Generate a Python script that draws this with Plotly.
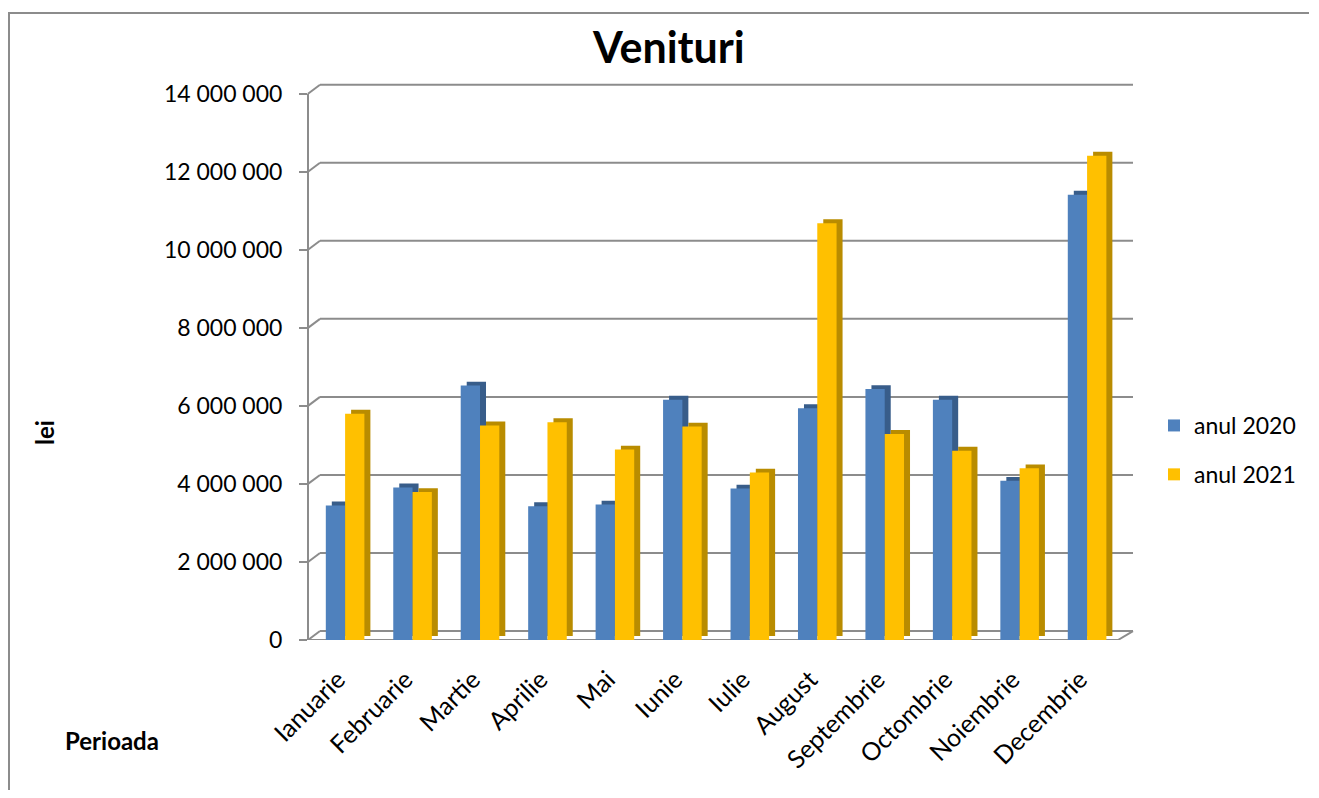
import plotly.graph_objects as go

# ---- data ----
months = ["Ianuarie", "Februarie", "Martie", "Aprilie", "Mai", "Iunie",
          "Iulie", "August", "Septembrie", "Octombrie", "Noiembrie", "Decembrie"]
anul_2020 = [3450000, 3910000, 6520000, 3430000, 3470000, 6160000,
             3880000, 5940000, 6430000, 6160000, 4080000, 11410000]
anul_2021 = [5800000, 3790000, 5500000, 5580000, 4880000, 5470000,
             4290000, 10680000, 5280000, 4850000, 4400000, 12410000]
series_names = ["anul 2020", "anul 2021"]
y_ticks = [0, 2000000, 4000000, 6000000, 8000000, 10000000, 12000000, 14000000]
y_ticktext = [f"{v:,}".replace(",", " ") for v in y_ticks]

# ---- style / layout (page pixel geometry; body margin is 8px) ----
FONT = "Lato"
BLUE, BLUE_SIDE = "#4F81BD", "#385D8A"
YELLOW, YELLOW_SIDE = "#FFC000", "#B98C00"
GRID = "#8C8C8C"

OFF = 8
PLOT_L, PLOT_B = 308, 640          # page px of plot area left / bottom
PW, PH = 829, 558
W, H = 1301, 782
L = PLOT_L - OFF
T = PLOT_B - PH - OFF
R = W - L - PW
B = H - T - PH

def px_x(p):
    return (p - PLOT_L) / PW

def px_y(p):
    return (PLOT_B - p) / PH

x = list(range(len(months)))
bw = 0.286          # bar width (category units)
dx = 0.089          # depth offset to the right
dy = 100000         # depth offset upward (value units)
wall = 230000       # back wall shift (value units)
top = y_ticks[-1] + wall + 70000

fig = go.Figure()
specs = [
    (anul_2020, series_names[0], BLUE, BLUE_SIDE, -bw, "g1"),
    (anul_2021, series_names[1], YELLOW, YELLOW_SIDE, 0.0, "g2"),
]
for vals, name, col, side, off, grp in specs:
    fig.add_trace(go.Bar(
        x=x, y=vals, base=[dy] * len(vals), offset=off + dx, width=bw,
        marker=dict(color=side, line=dict(width=0)),
        showlegend=False, hoverinfo="skip", legendgroup=grp,
    ))
    fig.add_trace(go.Bar(
        x=x, y=vals, offset=off, width=bw, name=name,
        marker=dict(color=col, line=dict(width=0)), legendgroup=grp,
    ))

# back wall gridlines with perspective connectors, built from the tick values
shapes = []
x_front, x_back, x_right = px_x(308), px_x(320), px_x(1133)
for v in y_ticks:
    shapes.append(dict(type="line", xref="paper", yref="y", layer="below",
                       x0=x_front, y0=v, x1=x_back, y1=v + wall,
                       line=dict(color=GRID, width=2)))
    shapes.append(dict(type="line", xref="paper", yref="y", layer="below",
                       x0=x_back, y0=v + wall, x1=x_right, y1=v + wall,
                       line=dict(color=GRID, width=2)))
# floor front edge and right edge
x_floor_r = px_x(1118)
shapes.append(dict(type="line", xref="paper", yref="y", layer="below",
                   x0=x_front, y0=0, x1=x_floor_r, y1=0,
                   line=dict(color=GRID, width=2)))
shapes.append(dict(type="line", xref="paper", yref="y", layer="below",
                   x0=x_floor_r, y0=0, x1=x_right, y1=wall,
                   line=dict(color=GRID, width=2)))
# front value axis line
shapes.append(dict(type="line", xref="paper", yref="y", layer="below",
                   x0=x_front, y0=0, x1=x_front, y1=y_ticks[-1],
                   line=dict(color=GRID, width=2)))
# chart frame (left and top edges visible; right/bottom run off the page)
shapes.append(dict(type="rect", xref="paper", yref="paper", layer="below",
                   x0=px_x(9), x1=px_x(1400), y0=px_y(900), y1=px_y(13),
                   line=dict(color=GRID, width=2)))

fig.update_layout(
    width=W, height=H,
    margin=dict(l=L, r=R, t=T, b=B, autoexpand=False),
    paper_bgcolor="white", plot_bgcolor="white",
    barmode="overlay",
    font=dict(family=FONT, size=23, color="black"),
    xaxis=dict(
        range=[-0.55, len(months) - 0.26],
        tickvals=x, ticktext=months, tickangle=-45,
        showline=False, showgrid=False, zeroline=False,
        ticks="outside", ticklen=14, tickcolor="rgba(0,0,0,0)",
        ticklabelshift=-7,
        tickfont=dict(family=FONT, size=25),
        automargin=False, fixedrange=True,
    ),
    yaxis=dict(
        range=[0, top], tickvals=y_ticks, ticktext=y_ticktext,
        showgrid=False, zeroline=False, showline=False,
        ticks="outside", ticklen=8, tickcolor=GRID, tickwidth=2,
        ticklabelstandoff=12,
        tickfont=dict(family=FONT, size=23),
        automargin=False, fixedrange=True,
    ),
    legend=dict(
        x=px_x(1154), y=px_y(450), xanchor="left", yanchor="middle",
        tracegroupgap=16, itemwidth=30,
        font=dict(family=FONT, size=23),
        bgcolor="rgba(0,0,0,0)",
    ),
    annotations=[
        dict(text="<b>Venituri</b>", xref="paper", yref="paper",
             x=px_x(668.5), y=px_y(47), xanchor="center", yanchor="middle",
             showarrow=False, font=dict(family=FONT, size=43, color="black")),
        dict(text="<b>lei</b>", xref="paper", yref="paper",
             x=px_x(44), y=px_y(433), xanchor="center", yanchor="middle",
             textangle=-90, showarrow=False,
             font=dict(family=FONT, size=24, color="black")),
        dict(text="<b>Perioada</b>", xref="paper", yref="paper",
             x=px_x(111.5), y=px_y(740), xanchor="center", yanchor="middle",
             showarrow=False, font=dict(family=FONT, size=24, color="black")),
    ],
    shapes=shapes,
)

fig.write_html("out.html")
